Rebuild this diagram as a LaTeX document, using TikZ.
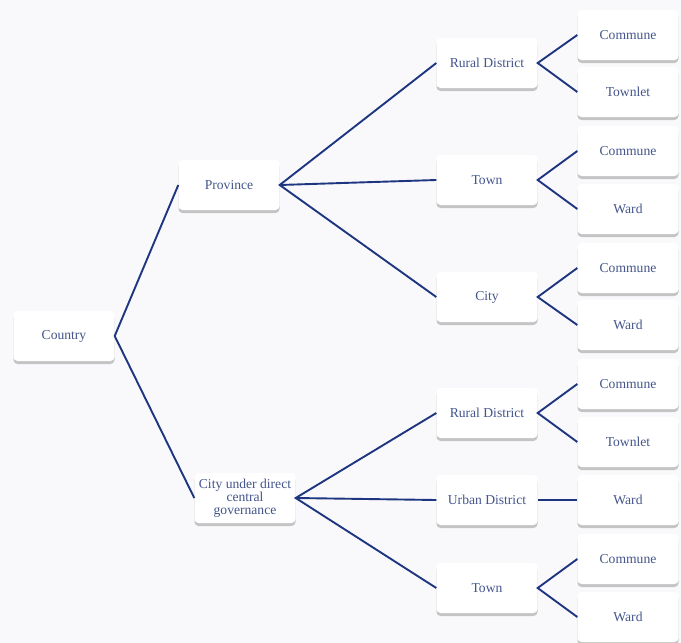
\documentclass[tikz,border=0pt]{standalone}
\usepackage{fontspec}
\setmainfont{Liberation Serif}
\usetikzlibrary{shadows}
\definecolor{pagebg}{HTML}{F9F9FC}
\definecolor{labeltext}{HTML}{44558C}
\definecolor{linkblue}{HTML}{1E3580}
\tikzset{
  unit/.style={draw=none, fill=white, rounded corners=4pt,
    minimum width=101pt, minimum height=50pt, inner sep=1pt,
    align=center, text=labeltext,
    font=\fontsize{13.6pt}{13pt}\selectfont,
    drop shadow={shadow xshift=0pt, shadow yshift=-3pt, opacity=0.55, fill=gray!80}},
  link/.style={draw=linkblue, line width=1.9pt}
}
\begin{document}
\begin{tikzpicture}[x=1pt, y=-1pt]
  \fill[pagebg] (0,0) rectangle (681,643);
  \useasboundingbox (0,0) rectangle (681,643);

  % root
  \node[unit] (country) at (64,336) {Country};

  % first level
  \node[unit] (prov) at (229,185) {Province};
  \node[unit] (cdc) at (245,498) {City under direct\\central\\governance};

  % second level
  \node[unit] (rd1) at (487,63) {Rural District};
  \node[unit] (town1) at (487,180) {Town};
  \node[unit] (city) at (487,297) {City};
  \node[unit] (rd2) at (487,413) {Rural District};
  \node[unit] (ud) at (487,500) {Urban District};
  \node[unit] (town2) at (487,588) {Town};

  % third level
  \node[unit] (c1) at (628,35) {Commune};
  \node[unit] (t1) at (628,92) {Townlet};
  \node[unit] (c2) at (628,151) {Commune};
  \node[unit] (w1) at (628,209) {Ward};
  \node[unit] (c3) at (628,268) {Commune};
  \node[unit] (w2) at (628,325) {Ward};
  \node[unit] (c4) at (628,384) {Commune};
  \node[unit] (t2) at (628,442) {Townlet};
  \node[unit] (w3) at (628,500) {Ward};
  \node[unit] (c5) at (628,559) {Commune};
  \node[unit] (w4) at (628,617) {Ward};

  % connectors
  \draw[link] (prov.west) -- (country.east) -- (cdc.west);
  \draw[link] (rd1.west) -- (prov.east) -- (city.west);
  \draw[link] (prov.east) -- (town1.west);
  \draw[link] (rd2.west) -- (cdc.east) -- (town2.west);
  \draw[link] (cdc.east) -- (ud.west);

  \draw[link] (c1.west) -- (rd1.east) -- (t1.west);
  \draw[link] (c2.west) -- (town1.east) -- (w1.west);
  \draw[link] (c3.west) -- (city.east) -- (w2.west);
  \draw[link] (c4.west) -- (rd2.east) -- (t2.west);
  \draw[link] (ud.east) -- (w3.west);
  \draw[link] (c5.west) -- (town2.east) -- (w4.west);
\end{tikzpicture}
\end{document}
